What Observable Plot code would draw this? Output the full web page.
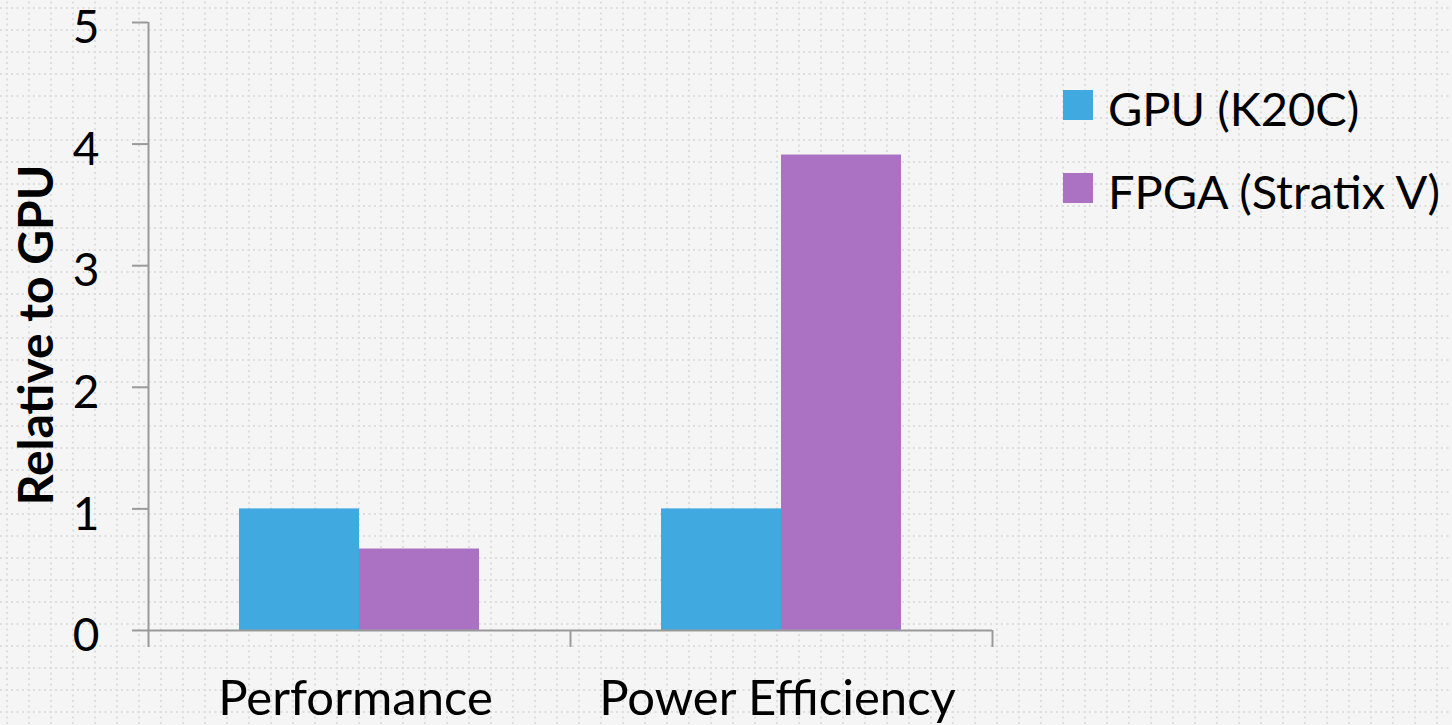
<!DOCTYPE html>
<html>
<head>
<meta charset="utf-8">
<script src="https://cdn.jsdelivr.net/npm/d3@7"></script>
<script src="https://cdn.jsdelivr.net/npm/@observablehq/plot@0.6"></script>
<style>
  html, body { margin: 0; padding: 0; }
  body {
    width: 1452px; height: 725px; overflow: hidden;
    background-color: #f5f5f5;
    font-family: Lato, "Open Sans", sans-serif;
  }
  #wrap { position: relative; width: 1452px; height: 725px; }
  #chart { position: absolute; left: 0; top: 0; }
  #legend { position: absolute; left: 1063px; top: 78px; }
  .item { display: flex; align-items: center; height: 54px; margin-bottom: 29px; }
  .sw { width: 30px; height: 30px; margin-right: 15px; }
  .lab { font-size: 47px; color: #000; white-space: nowrap; line-height: 1; position: relative; top: 3px; }
</style>
</head>
<body>
<div id="wrap">
  <div id="chart"></div>
  <div id="legend"></div>
</div>
<script>
// ---- data ----
const categories = ["Performance", "Power Efficiency"];
const seriesNames = ["GPU (K20C)", "FPGA (Stratix V)"];
const gpuValues = [1, 1];
const fpgaValues = [0.67, 3.91];
const yTicks = [0, 1, 2, 3, 4, 5];
const colors = ["#3fa9e0", "#ab72c3"];

// ---- background dotted grid ----
(function () {
  const s = 22, st = 5.5;
  let r = "";
  for (let i = 0; i < 4; i++) {
    r += `<rect x="${i * st}" y="7" width="2" height="2" fill="#dedede"/>`;
    r += `<rect x="6" y="${i * st + 1.5}" width="2" height="2" fill="#dedede"/>`;
  }
  const svg = `<svg xmlns="http://www.w3.org/2000/svg" width="${s}" height="${s}">${r}</svg>`;
  document.body.style.backgroundImage = `url("data:image/svg+xml;utf8,${encodeURIComponent(svg)}")`;
  document.body.style.backgroundPosition = "0px 0px";
  document.body.style.backgroundSize = `${s}px ${s}px`;
})();

const rows = [];
categories.forEach((c, i) => {
  rows.push({category: c, series: seriesNames[0], value: gpuValues[i]});
  rows.push({category: c, series: seriesNames[1], value: fpgaValues[i]});
});

// ---- layout ----
const W = 1452, H = 725;
const mL = 148, mR = 460, mT = 22, mB = 78;
const rangeW = W - mL - mR;           // 844
const step = rangeW / categories.length; // 422
const pInner = 0.4313, pOuter = pInner / 2;
const bw = step * (1 - pInner);
const yMin = -0.14;
const axisColor = "#9a9a9a";
const font = "Lato, 'Open Sans', sans-serif";

const chart = Plot.plot({
  width: W,
  height: H,
  marginLeft: mL,
  marginRight: mR,
  marginTop: mT,
  marginBottom: mB,
  style: {background: "transparent", fontFamily: font, color: "#000", overflow: "visible"},
  x: {type: "band", domain: categories, paddingInner: pInner, paddingOuter: pOuter, axis: null},
  y: {domain: [yMin, 5], axis: null},
  marks: [
    Plot.barY(rows.filter(d => d.series === seriesNames[0]), {
      x: "category", y: "value", fill: colors[0], insetRight: bw / 2
    }),
    Plot.barY(rows.filter(d => d.series === seriesNames[1]), {
      x: "category", y: "value", fill: colors[1], insetLeft: bw / 2
    }),
    // x axis baseline
    Plot.ruleY([0], {stroke: axisColor, strokeWidth: 2}),
    // y axis line
    Plot.ruleX([categories[0]], {x: d => d, dx: -step / 2, y1: yMin, y2: 5, stroke: axisColor, strokeWidth: 2}),
    // category boundary ticks
    Plot.ruleX(categories, {x: d => d, dx: step / 2, y1: yMin, y2: 0, stroke: axisColor, strokeWidth: 2}),
    // y tick marks
    Plot.axisY({
      ticks: yTicks, tickSize: 16, tickFormat: () => "",
      stroke: axisColor, strokeWidth: 2, label: null
    }),
    // y tick labels
    Plot.axisY({
      ticks: yTicks, tickSize: 0, tickPadding: 49, tickFormat: d => String(d),
      fontSize: 46, dy: 6, label: null, color: "#000"
    }),
    Plot.axisY({
      ticks: [], label: "Relative to GPU", labelAnchor: "center", labelArrow: "none",
      labelOffset: 130, fontSize: 48, fontWeight: "bold"
    }),
    // x labels
    Plot.axisX({
      tickSize: 0, tickPadding: 33, fontSize: 49, label: null, dx: -4
    })
  ]
});
document.getElementById("chart").appendChild(chart);

// ---- legend ----
const legend = document.getElementById("legend");
seriesNames.forEach((n, i) => {
  const it = document.createElement("div");
  it.className = "item";
  it.innerHTML = `<div class="sw" style="background:${colors[i]}"></div><div class="lab">${n}</div>`;
  legend.appendChild(it);
});
</script>
</body>
</html>
